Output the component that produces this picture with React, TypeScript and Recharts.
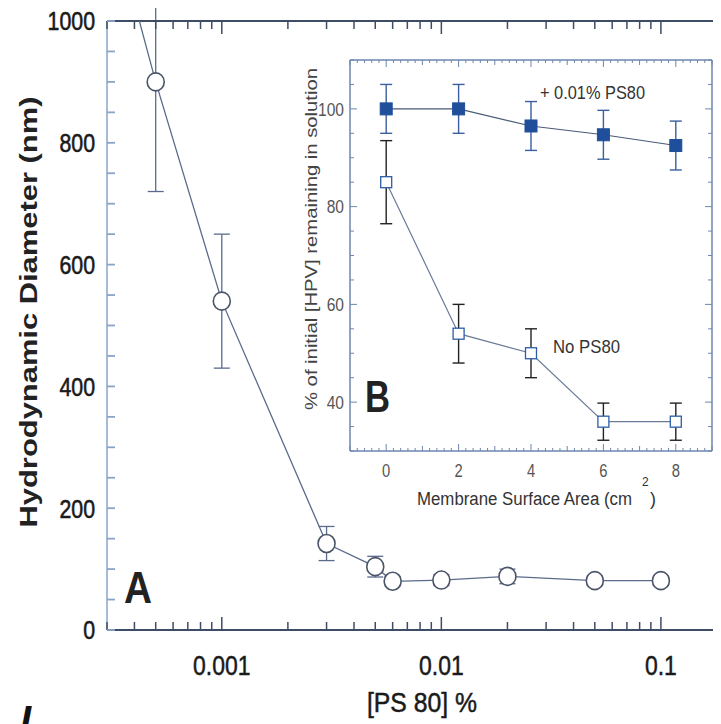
import React from 'react';
import { ScatterChart, Scatter, XAxis, YAxis, ErrorBar } from 'recharts';

// Panel A: hydrodynamic diameter vs PS80 concentration
const psConc = [0.0004, 0.0005, 0.001, 0.003, 0.005, 0.006, 0.01, 0.02, 0.05, 0.1];
const diameter = [1030, 900, 540, 142, 104, 80, 82, 88, 81, 81];
const diameterErr = [0, 180, 110, 28, 17, 8, 9, 12, 8, 8];

const mainXTicks = [
  0.0003, 0.0004, 0.0005, 0.0006, 0.0007, 0.0008, 0.0009,
  0.001, 0.002, 0.003, 0.004, 0.005, 0.006, 0.007, 0.008, 0.009,
  0.01, 0.02, 0.03, 0.04, 0.05, 0.06, 0.07, 0.08, 0.09,
  0.1, 0.2,
];
const mainXLabels = [0.001, 0.01, 0.1];
const mainYTicks = [0, 50, 100, 150, 200, 250, 300, 350, 400, 450, 500, 550, 600, 650, 700, 750, 800, 850, 900, 950, 1000];
const mainYLabels = [0, 200, 400, 600, 800, 1000];

// Panel B (inset): % HPV remaining vs membrane area
const area = [0, 2, 4, 6, 8];
const withPs80 = [100, 100, 96.5, 94.7, 92.5];
const withPs80Err = [5, 5, 5, 5, 5];
const noPs80 = [85, 54, 50, 36, 36];
const noPs80Err = [8.5, 6, 5, 3.8, 3.8];

const insetXLabels = [0, 2, 4, 6, 8];
const insetYLabels = [40, 60, 80, 100];

const SANS = "'Liberation Sans', Arial, sans-serif";
const DARK_AXIS = '#3e4c66';
const LEFT_AXIS = '#8aa3c9';
const INSET_AXIS = '#6d86b0';

const mainData = psConc.map((x, i) => ({ x, y: diameter[i], err: diameterErr[i] }));
const filledData = area.map((x, i) => ({ x, y: withPs80[i], err: withPs80Err[i] }));
const openData = area.map((x, i) => ({ x, y: noPs80[i], err: noPs80Err[i] }));

// minor tick positions for the inset frame
const insetXTicks = Array.from({ length: 51 }, (_, i) => Math.round((-1 + i * 0.2) * 10) / 10);
const insetYTicks = Array.from({ length: 17 }, (_, i) => 30 + i * 5);

// squeeze Liberation Sans digits to look like a narrow face
const narrowWidth = (s: string, fs: number) =>
  [...s].reduce((w, c) => w + (c === '.' ? 0.278 : 0.556), 0) * fs * 0.82;

function NarrowText({ children, fontSize, ...rest }: any) {
  const s = String(children);
  return (
    <text
      fontFamily={SANS}
      fontSize={fontSize}
      textLength={narrowWidth(s, fontSize)}
      lengthAdjust="spacingAndGlyphs"
      {...rest}
    >
      {s}
    </text>
  );
}

function MainXTick(props: any) {
  const { x, y, payload, top } = props;
  const v = payload.value;
  const major = mainXLabels.includes(v);
  const len = major ? 13 : 8;
  const dir = top ? 1 : -1;
  return (
    <g>
      <line x1={x} y1={y} x2={x} y2={y + dir * len} stroke={DARK_AXIS} strokeWidth={1.5} />
      {!top && major && (
        <NarrowText x={x} y={y + 45} textAnchor="middle" fontSize={28} fill="#1a1a1a" stroke="#1a1a1a" strokeWidth={0.5}>
          {String(v)}
        </NarrowText>
      )}
    </g>
  );
}

function MainYTick(props: any) {
  const { x, y, payload } = props;
  const v = payload.value;
  return (
    <g>
      <line x1={x} y1={y} x2={x + 8} y2={y} stroke={LEFT_AXIS} strokeWidth={1.8} />
      {mainYLabels.includes(v) && (
        <NarrowText x={x - 12} y={y} dy="0.36em" textAnchor="end" fontSize={26} fill="#1a1a1a" stroke="#1a1a1a" strokeWidth={0.6}>
          {v}
        </NarrowText>
      )}
    </g>
  );
}

function InsetXTick(props: any) {
  const { x, y, payload, top } = props;
  const v = payload.value;
  const len = v % 2 === 0 ? 7 : Number.isInteger(v) ? 5 : 3;
  const dir = top ? 1 : -1;
  return (
    <g>
      <line x1={x} y1={y} x2={x} y2={y + dir * len} stroke={INSET_AXIS} strokeWidth={1} />
      {!top && insetXLabels.includes(v) && (
        <NarrowText x={x} y={y + 26} textAnchor="middle" fontSize={18} fill="#555">
          {v}
        </NarrowText>
      )}
    </g>
  );
}

function InsetYTick(props: any) {
  const { x, y, payload, right } = props;
  const v = payload.value;
  const major = insetYLabels.includes(v);
  const len = major ? 7 : 4;
  const dir = right ? -1 : 1;
  return (
    <g>
      <line x1={x} y1={y} x2={x + dir * len} y2={y} stroke={INSET_AXIS} strokeWidth={1} />
      {!right && major && (
        <NarrowText x={x - 6} y={y} dy="0.36em" textAnchor="end" fontSize={19} fill="#555">
          {v}
        </NarrowText>
      )}
    </g>
  );
}

const OpenCircle = (p: any) => (
  <ellipse cx={p.cx} cy={p.cy} rx={8.5} ry={9} fill="#fff" stroke="#4a5468" strokeWidth={1.6} />
);
const FilledSquare = (p: any) => (
  <rect x={p.cx - 6} y={p.cy - 6} width={12} height={12} fill="#1f4f9a" stroke="#1f4f9a" />
);
const OpenSquare = (p: any) => (
  <rect x={p.cx - 5.5} y={p.cy - 5.5} width={11} height={11} fill="#fff" stroke="#2d5da6" strokeWidth={1.3} />
);

export default function App() {
  return (
    <div style={{ position: 'relative', width: 713, height: 716, overflow: 'hidden', background: '#fff' }}>
      <ScatterChart width={722} height={716} margin={{ top: 12, right: 3, left: 0, bottom: 0 }}>
        <XAxis
          xAxisId="bottom"
          dataKey="x"
          type="number"
          scale="log"
          domain={[0.0003, 0.2]}
          allowDataOverflow
          ticks={mainXTicks}
          interval={0}
          height={94}
          tickSize={0}
          tickMargin={0}
          tickLine={false}
          axisLine={{ stroke: DARK_AXIS, strokeWidth: 2 }}
          tick={(p: any) => <MainXTick {...p} />}
        />
        <XAxis
          xAxisId="top"
          orientation="top"
          dataKey="x"
          type="number"
          scale="log"
          domain={[0.0003, 0.2]}
          allowDataOverflow
          ticks={mainXTicks}
          interval={0}
          height={1}
          tickSize={0}
          tickMargin={0}
          tickLine={false}
          axisLine={{ stroke: DARK_AXIS, strokeWidth: 2 }}
          tick={(p: any) => <MainXTick {...p} top />}
        />
        <YAxis
          yAxisId="left"
          dataKey="y"
          type="number"
          domain={[0, 1000]}
          allowDataOverflow
          ticks={mainYTicks}
          interval={0}
          width={99}
          tickSize={0}
          tickMargin={0}
          tickLine={false}
          axisLine={{ stroke: LEFT_AXIS, strokeWidth: 1.5 }}
          tick={(p: any) => <MainYTick {...p} />}
        />
        <Scatter
          xAxisId="bottom"
          yAxisId="left"
          data={mainData}
          line={{ stroke: '#5b6b8c', strokeWidth: 1.3 }}
          shape={OpenCircle}
          isAnimationActive={false}
        >
          <ErrorBar dataKey="err" direction="y" width={8} stroke="#5b6b8c" strokeWidth={1.3} />
        </Scatter>
      </ScatterChart>

      <div style={{ position: 'absolute', left: 292, top: 42 }}>
        <ScatterChart width={420} height={460} margin={{ top: 9, right: 7, left: 0, bottom: 0 }}>
          <XAxis
            xAxisId="bottom"
            dataKey="x"
            type="number"
            domain={[-1, 9]}
            allowDataOverflow
            ticks={insetXTicks}
            interval={0}
            height={59}
            tickSize={0}
            tickMargin={0}
            tickLine={false}
            axisLine={{ stroke: INSET_AXIS, strokeWidth: 1.5 }}
            tick={(p: any) => <InsetXTick {...p} />}
          />
          <XAxis
            xAxisId="top"
            orientation="top"
            dataKey="x"
            type="number"
            domain={[-1, 9]}
            allowDataOverflow
            ticks={insetXTicks}
            interval={0}
            height={1}
            tickSize={0}
            tickMargin={0}
            tickLine={false}
            axisLine={{ stroke: INSET_AXIS, strokeWidth: 1.5 }}
            tick={(p: any) => <InsetXTick {...p} top />}
          />
          <YAxis
            yAxisId="left"
            dataKey="y"
            type="number"
            domain={[30, 110]}
            allowDataOverflow
            ticks={insetYTicks}
            interval={0}
            width={50}
            tickSize={0}
            tickMargin={0}
            tickLine={false}
            axisLine={{ stroke: INSET_AXIS, strokeWidth: 1.5 }}
            tick={(p: any) => <InsetYTick {...p} />}
          />
          <YAxis
            yAxisId="right"
            orientation="right"
            dataKey="y"
            type="number"
            domain={[30, 110]}
            allowDataOverflow
            ticks={insetYTicks}
            interval={0}
            width={1}
            tickSize={0}
            tickMargin={0}
            tickLine={false}
            axisLine={{ stroke: INSET_AXIS, strokeWidth: 1.5 }}
            tick={(p: any) => <InsetYTick {...p} right />}
          />
          <Scatter
            xAxisId="bottom"
            yAxisId="left"
            data={openData}
            line={{ stroke: '#6a7a98', strokeWidth: 1.2 }}
            shape={OpenSquare}
            isAnimationActive={false}
          >
            <ErrorBar dataKey="err" direction="y" width={6} stroke="#222" strokeWidth={1.4} />
          </Scatter>
          <Scatter
            xAxisId="bottom"
            yAxisId="left"
            data={filledData}
            line={{ stroke: '#4a5a78', strokeWidth: 1.2 }}
            shape={FilledSquare}
            isAnimationActive={false}
          >
            <ErrorBar dataKey="err" direction="y" width={6} stroke="#3a5f9e" strokeWidth={1.4} />
          </Scatter>
        </ScatterChart>
      </div>

      <svg
        width={713}
        height={716}
        style={{ position: 'absolute', left: 0, top: 0, pointerEvents: 'none' }}
      >
        <text
          transform="translate(29 304) rotate(-90)"
          textAnchor="middle"
          fontFamily={SANS}
          fontWeight="bold"
          fontSize={23}
          fill="#222"
          textLength={431}
          lengthAdjust="spacingAndGlyphs"
        >
          Hydrodynamic Diameter (nm)
        </text>
        <text x={414} y={704} textAnchor="middle" fontFamily={SANS} fontSize={28} fill="#1a1a1a" stroke="#1a1a1a" strokeWidth={0.5} textLength={110} lengthAdjust="spacingAndGlyphs">
          [PS 80] %
        </text>
        <text x={116} y={595} fontFamily={SANS} fontWeight="bold" fontSize={44} fill="#222" textLength={28} lengthAdjust="spacingAndGlyphs">
          A
        </text>
        <text x={357} y={404} fontFamily={SANS} fontWeight="bold" fontSize={44} fill="#222" textLength={25} lengthAdjust="spacingAndGlyphs">
          B
        </text>
        <text x={532} y={91} fontFamily={SANS} fontSize={19} fill="#333" textLength={105} lengthAdjust="spacingAndGlyphs">
          + 0.01% PS80
        </text>
        <text x={545} y={345} fontFamily={SANS} fontSize={19} fill="#333" textLength={67} lengthAdjust="spacingAndGlyphs">
          No PS80
        </text>
        <text
          transform="translate(309 231) rotate(-90)"
          textAnchor="middle"
          fontFamily={SANS}
          fontSize={16}
          fill="#444"
          textLength={342}
          lengthAdjust="spacingAndGlyphs"
        >
          % of initial [HPV] remaining in solution
        </text>
        <text x={409} y={497} fontFamily={SANS} fontSize={18} fill="#333" textLength={215} lengthAdjust="spacingAndGlyphs">
          Membrane Surface Area (cm
        </text>
        <text x={634} y={478} fontFamily={SANS} fontSize={12} fill="#333">
          2
        </text>
        <text x={642} y={497} fontFamily={SANS} fontSize={18} fill="#333">
          )
        </text>
        <text x={12} y={726} fontFamily={SANS} fontWeight="bold" fontStyle="italic" fontSize={40} fill="#111">
          I
        </text>
      </svg>
    </div>
  );
}
